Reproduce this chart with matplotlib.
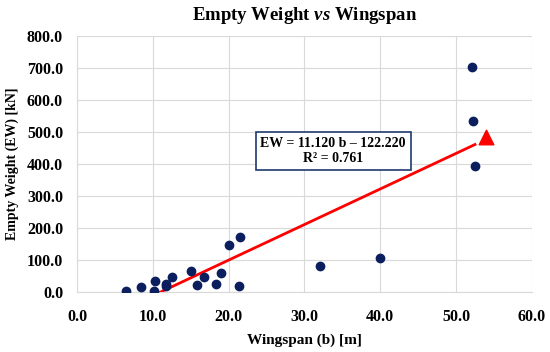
import matplotlib.pyplot as plt
import numpy as np

# wingspan b [m] and empty weight EW [kN]
wingspan = [6.4, 8.5, 10.3, 10.2, 11.7, 11.8, 12.5, 15.0, 15.8, 16.8,
            18.3, 19.0, 20.0, 21.5, 21.4, 32.0, 40.0, 52.1, 52.2, 52.5]
empty_weight = [3, 17, 35, 3, 25, 18, 48, 65, 23, 46,
                26, 61, 147, 173, 19, 82, 107, 703, 534, 394]

# design point (triangle)
design_b = [54.0]
design_ew = [486]

# regression line EW = slope * b + intercept
slope = 11.120
intercept = -122.220
fit_range = [11.0, 52.5]

plt.rcParams['font.family'] = ['Liberation Serif', 'DejaVu Serif']
plt.rcParams['mathtext.fontset'] = 'custom'
plt.rcParams['mathtext.it'] = 'Liberation Serif:italic:bold'

fig = plt.figure(figsize=(5.5, 3.52), dpi=100)
ax = fig.add_axes([0.14, 0.17, 0.827, 0.727])

ax.grid(True, color='#d9d9d9', linewidth=0.8)
ax.set_axisbelow(True)

bx = np.array(fit_range)
ax.plot(bx, slope * bx + intercept, color='#ff0000', linewidth=2, zorder=2)
ax.scatter(wingspan, empty_weight, s=36, color='#0b1f5e', zorder=3)
ax.scatter(design_b, design_ew, s=110, marker='^', color='#ff0000', zorder=3)

ax.set_xlim(0, 60)
ax.set_ylim(0, 800)
ax.set_xticks(np.arange(0, 61, 10))
ax.set_yticks(np.arange(0, 801, 100))
ax.xaxis.set_major_formatter(lambda v, p: f'{v:.1f}')
ax.yaxis.set_major_formatter(lambda v, p: f'{v:.1f}')
ax.tick_params(length=0, labelsize=11.5)
ax.tick_params(axis='x', pad=12)
ax.tick_params(axis='y', pad=10)
for lab in ax.get_xticklabels() + ax.get_yticklabels():
    lab.set_fontweight('bold')

for s in ['top', 'right']:
    ax.spines[s].set_visible(False)
for s in ['left', 'bottom']:
    ax.spines[s].set_color('#d9d9d9')

ax.set_xlabel('Wingspan (b) [m]', fontsize=11, fontweight='bold', labelpad=6)
ax.set_ylabel('Empty Weight (EW) [kN]', fontsize=10, fontweight='bold', labelpad=6)
ax.set_title(r'Empty Weight $\mathit{vs}$ Wingspan', fontsize=13.5, fontweight='bold', pad=12)

ax.text(33.8, 442, 'EW = 11.120 b \u2013 122.220\nR\u00b2 = 0.761', ha='center', va='center',
        fontsize=10, fontweight='bold', linespacing=1.2,
        bbox=dict(boxstyle='square,pad=0.35', facecolor='white', edgecolor='#1f3a6e', linewidth=1.2))

fig.savefig('out.png', dpi=100)
